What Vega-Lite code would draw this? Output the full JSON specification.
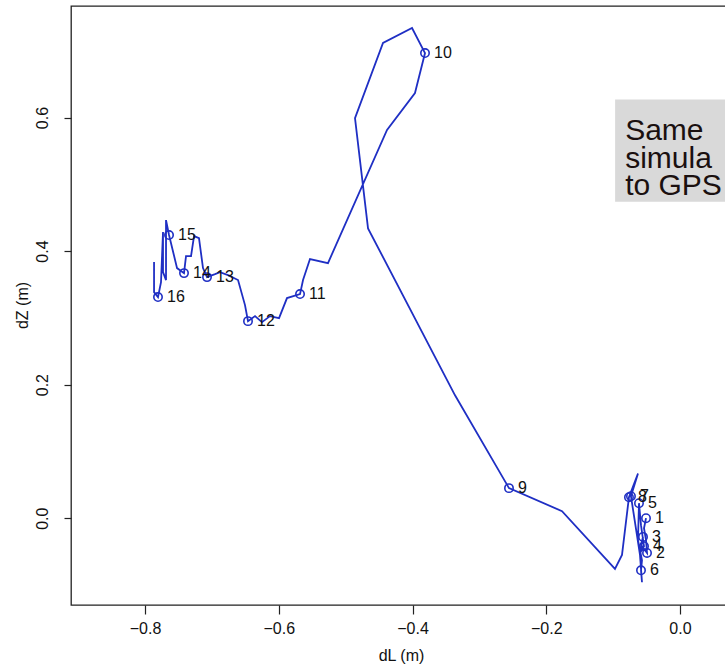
{
  "$schema": "https://vega.github.io/schema/vega-lite/v6.json",
  "width": 660,
  "height": 599,
  "autosize": {"type": "none"},
  "padding": {"left": 71, "top": 6, "right": 0, "bottom": 63},
  "background": "white",
  "config": {
    "view": {"stroke": "#222222", "strokeWidth": 1.3},
    "font": "Liberation Sans",
    "axis": {"grid": false, "domain": false, "tickColor": "#222222", "tickWidth": 1.2, "labelColor": "#111111", "titleColor": "#111111", "labelFont": "Liberation Sans", "titleFont": "Liberation Sans", "labelFontSize": 16, "titleFontSize": 16, "titleFontWeight": "normal"}
  },
  "datasets": {
    "traj": [
      {"order": 1, "dL": -0.0508, "dZ": 0.000, "lab": "1"},
      {"order": 2, "dL": -0.0538, "dZ": -0.015, "lab": null},
      {"order": 3, "dL": -0.0508, "dZ": -0.033, "lab": null},
      {"order": 4, "dL": -0.0493, "dZ": -0.052, "lab": "2"},
      {"order": 5, "dL": -0.0583, "dZ": -0.040, "lab": null},
      {"order": 6, "dL": -0.0553, "dZ": -0.028, "lab": "3"},
      {"order": 7, "dL": -0.0598, "dZ": -0.052, "lab": null},
      {"order": 8, "dL": -0.0538, "dZ": -0.042, "lab": "4"},
      {"order": 9, "dL": -0.0583, "dZ": -0.0105, "lab": null},
      {"order": 10, "dL": -0.0613, "dZ": 0.0225, "lab": "5"},
      {"order": 11, "dL": -0.0628, "dZ": -0.033, "lab": null},
      {"order": 12, "dL": -0.0568, "dZ": -0.063, "lab": null},
      {"order": 13, "dL": -0.0583, "dZ": -0.078, "lab": "6"},
      {"order": 14, "dL": -0.0568, "dZ": -0.096, "lab": null},
      {"order": 15, "dL": -0.0598, "dZ": -0.055, "lab": null},
      {"order": 16, "dL": -0.0733, "dZ": 0.033, "lab": "7"},
      {"order": 17, "dL": -0.0628, "dZ": 0.067, "lab": null},
      {"order": 18, "dL": -0.0763, "dZ": 0.0315, "lab": "8"},
      {"order": 19, "dL": -0.0867, "dZ": -0.055, "lab": null},
      {"order": 20, "dL": -0.0972, "dZ": -0.076, "lab": null},
      {"order": 21, "dL": -0.1764, "dZ": 0.0105, "lab": null},
      {"order": 22, "dL": -0.2557, "dZ": 0.045, "lab": "9"},
      {"order": 23, "dL": -0.3364, "dZ": 0.184, "lab": null},
      {"order": 24, "dL": -0.4665, "dZ": 0.434, "lab": null},
      {"order": 25, "dL": -0.4860, "dZ": 0.599, "lab": null},
      {"order": 26, "dL": -0.4441, "dZ": 0.7116, "lab": null},
      {"order": 27, "dL": -0.4007, "dZ": 0.734, "lab": null},
      {"order": 28, "dL": -0.3813, "dZ": 0.6966, "lab": "10"},
      {"order": 29, "dL": -0.3963, "dZ": 0.6367, "lab": null},
      {"order": 30, "dL": -0.4381, "dZ": 0.5813, "lab": null},
      {"order": 31, "dL": -0.5264, "dZ": 0.382, "lab": null},
      {"order": 32, "dL": -0.5533, "dZ": 0.388, "lab": null},
      {"order": 33, "dL": -0.5637, "dZ": 0.3566, "lab": null},
      {"order": 34, "dL": -0.5682, "dZ": 0.3356, "lab": "11"},
      {"order": 35, "dL": -0.5877, "dZ": 0.3296, "lab": null},
      {"order": 36, "dL": -0.5996, "dZ": 0.2996, "lab": null},
      {"order": 37, "dL": -0.6131, "dZ": 0.3026, "lab": null},
      {"order": 38, "dL": -0.6251, "dZ": 0.2936, "lab": null},
      {"order": 39, "dL": -0.6355, "dZ": 0.3026, "lab": null},
      {"order": 40, "dL": -0.6460, "dZ": 0.2951, "lab": "12"},
      {"order": 41, "dL": -0.6505, "dZ": 0.3191, "lab": null},
      {"order": 42, "dL": -0.6609, "dZ": 0.3566, "lab": null},
      {"order": 43, "dL": -0.6759, "dZ": 0.364, "lab": null},
      {"order": 44, "dL": -0.6879, "dZ": 0.3685, "lab": null},
      {"order": 45, "dL": -0.6953, "dZ": 0.3655, "lab": null},
      {"order": 46, "dL": -0.7073, "dZ": 0.361, "lab": "13"},
      {"order": 47, "dL": -0.7133, "dZ": 0.3745, "lab": null},
      {"order": 48, "dL": -0.7193, "dZ": 0.4195, "lab": null},
      {"order": 49, "dL": -0.7267, "dZ": 0.4225, "lab": null},
      {"order": 50, "dL": -0.7312, "dZ": 0.3925, "lab": null},
      {"order": 51, "dL": -0.7387, "dZ": 0.3925, "lab": null},
      {"order": 52, "dL": -0.7417, "dZ": 0.367, "lab": "14"},
      {"order": 53, "dL": -0.7521, "dZ": 0.3745, "lab": null},
      {"order": 54, "dL": -0.7641, "dZ": 0.424, "lab": "15"},
      {"order": 55, "dL": -0.7686, "dZ": 0.4464, "lab": null},
      {"order": 56, "dL": -0.7686, "dZ": 0.3566, "lab": null},
      {"order": 57, "dL": -0.7731, "dZ": 0.3685, "lab": null},
      {"order": 58, "dL": -0.7731, "dZ": 0.4285, "lab": null},
      {"order": 59, "dL": -0.7761, "dZ": 0.3536, "lab": null},
      {"order": 60, "dL": -0.7806, "dZ": 0.3311, "lab": "16"},
      {"order": 61, "dL": -0.7865, "dZ": 0.3386, "lab": null},
      {"order": 62, "dL": -0.7865, "dZ": 0.3835, "lab": null}
    ],
    "box": [{"dL": -0.097, "dL2": 0.2, "dZ": 0.627, "dZ2": 0.474}],
    "note": [
      {"dL": -0.082, "dZ": 0.566, "txt": "Same"},
      {"dL": -0.082, "dZ": 0.524, "txt": "simula"},
      {"dL": -0.082, "dZ": 0.484, "txt": "to GPS"}
    ]
  },
  "encoding": {
    "x": {"field": "dL", "type": "quantitative",
      "scale": {"domain": [-0.9107, 0.0763], "nice": false, "zero": false},
      "axis": {"values": [-0.8, -0.6, -0.4, -0.2, 0], "format": ".1f", "title": "dL (m)", "tickSize": 9, "labelPadding": 6, "titleY": 50, "titleBaseline": "middle"}},
    "y": {"field": "dZ", "type": "quantitative",
      "scale": {"domain": [-0.130, 0.767], "nice": false, "zero": false},
      "axis": {"values": [0, 0.2, 0.4, 0.6], "format": ".1f", "title": "dZ (m)", "tickSize": 7, "labelPadding": 17, "labelAngle": 270, "labelAlign": "center", "labelBaseline": "alphabetic", "titleX": -49, "titleY": 299, "titleAngle": 270, "titleAlign": "center", "titleBaseline": "middle"}}
  },
  "layer": [
    {
      "data": {"name": "box"},
      "mark": {"type": "rect", "color": "#d9d9d9", "clip": true},
      "encoding": {"x2": {"field": "dL2"}, "y2": {"field": "dZ2"}}
    },
    {
      "data": {"name": "note"},
      "mark": {"type": "text", "align": "left", "baseline": "alphabetic", "fontSize": 30, "color": "#1a1010", "font": "Liberation Sans"},
      "encoding": {"text": {"field": "txt"}}
    },
    {
      "data": {"name": "traj"},
      "mark": {"type": "line", "color": "#1f2fc4", "strokeWidth": 1.8},
      "encoding": {"order": {"field": "order", "type": "quantitative"}}
    },
    {
      "data": {"name": "traj"},
      "transform": [{"filter": "datum.lab != null"}],
      "mark": {"type": "point", "shape": "circle", "filled": false, "color": "#1f2fc4", "strokeWidth": 1.6, "size": 70, "opacity": 1}
    },
    {
      "data": {"name": "traj"},
      "transform": [{"filter": "datum.lab != null"}],
      "mark": {"type": "text", "align": "left", "baseline": "middle", "dx": 9, "fontSize": 16, "color": "#111111", "font": "Liberation Sans"},
      "encoding": {"text": {"field": "lab"}}
    }
  ]
}
